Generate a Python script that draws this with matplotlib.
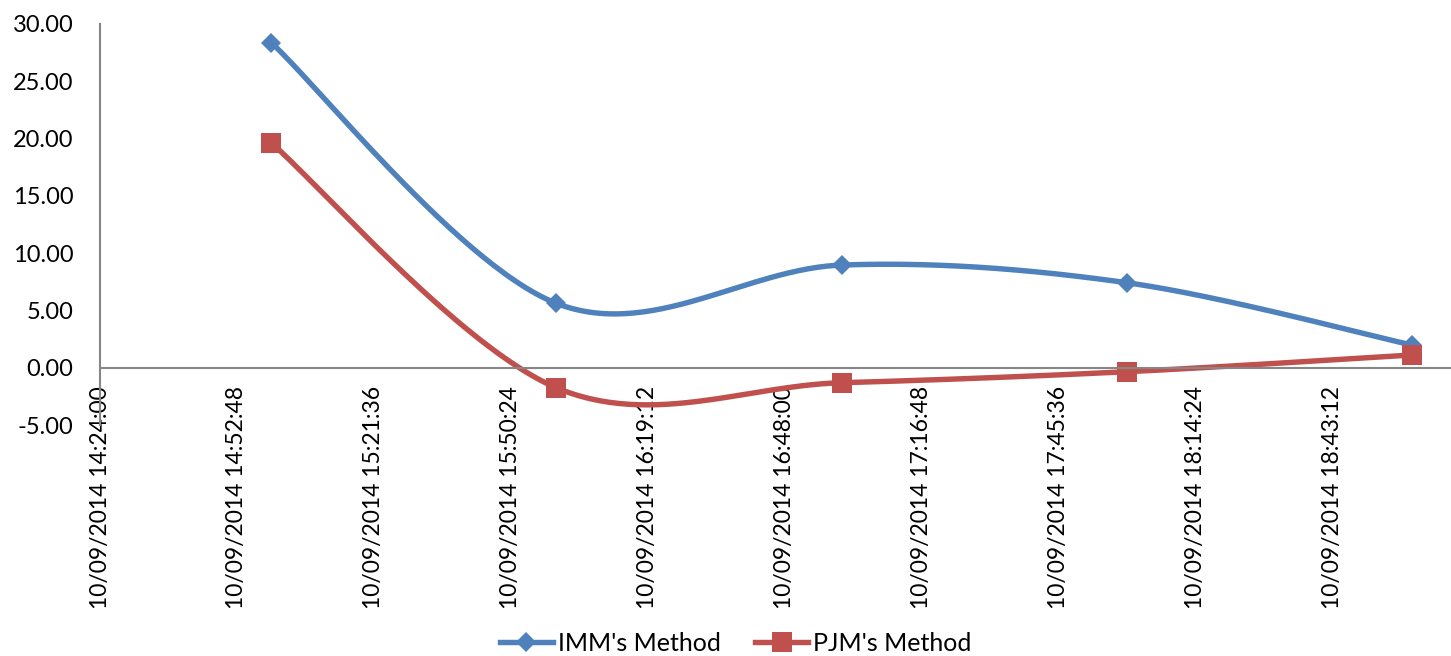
import datetime as dt

import matplotlib

matplotlib.use("Agg")
import matplotlib.dates as mdates
import matplotlib.pyplot as plt
import numpy as np
from matplotlib.lines import Line2D

plt.rcParams["font.family"] = ["Lato", "DejaVu Sans"]

# hourly readings
times = ["2014-09-10 15:00", "2014-09-10 16:00", "2014-09-10 17:00",
         "2014-09-10 18:00", "2014-09-10 19:00"]
imm_values = [28.38, 5.62, 8.96, 7.42, 1.98]
pjm_values = [19.63, -1.75, -1.31, -0.35, 1.11]

BLUE = "#4F81BD"
RED = "#C0504D"
AXIS_GRAY = "#868686"


def smooth_curve(x, y, steps=60):
    # cubic bezier through the points, Catmull-Rom style control points
    pts = np.column_stack([x, y]).astype(float)
    last = len(pts) - 1
    out = []
    t = np.linspace(0.0, 1.0, steps)[:, None]
    for i in range(last):
        p0 = pts[max(i - 1, 0)]
        p1 = pts[i]
        p2 = pts[i + 1]
        p3 = pts[min(i + 2, last)]
        c1 = p1 + (p2 - p0) / 6.0
        c2 = p2 - (p3 - p1) / 6.0
        seg = ((1 - t) ** 3) * p1 + 3 * ((1 - t) ** 2) * t * c1 \
            + 3 * (1 - t) * t ** 2 * c2 + t ** 3 * p2
        out.append(seg if i == 0 else seg[1:])
    out = np.vstack(out)
    return out[:, 0], out[:, 1]


x = mdates.date2num([dt.datetime.strptime(s, "%Y-%m-%d %H:%M") for s in times])

fig = plt.figure(figsize=(14.51, 6.56), dpi=100)
ax = fig.add_axes([100 / 1451, 231 / 656, 1350 / 1451, 401 / 656])

series = [
    ("IMM's Method", imm_values, BLUE, "D", 9.7),
    ("PJM's Method", pjm_values, RED, "s", 14.0),
]
handles = []
for name, values, color, marker, ms in series:
    sx, sy = smooth_curve(x, values)
    ax.plot(sx, sy, color=color, lw=3.9, solid_capstyle="round", clip_on=False)
    ax.plot(x, values, ls="none", marker=marker, ms=ms, color=color,
            markeredgewidth=0, clip_on=False)
    handles.append(Line2D([], [], color=color, lw=3.9, marker=marker, ms=ms,
                          markeredgewidth=0, label=name))

start = dt.datetime(2014, 9, 10, 14, 24)
step = dt.timedelta(minutes=28, seconds=48)
ticks = [start + k * step for k in range(10)]
ax.set_xticks(mdates.date2num(ticks))
ax.xaxis.set_major_formatter(mdates.DateFormatter("%d/%m/%Y %H:%M:%S"))
ax.set_xlim(mdates.date2num(start), mdates.date2num(start + dt.timedelta(minutes=284)))

ax.set_ylim(-5, 30)
ax.set_yticks(np.arange(-5, 31, 5))
ax.yaxis.set_major_formatter(matplotlib.ticker.FormatStrFormatter("%.2f"))

for side in ("top", "right"):
    ax.spines[side].set_visible(False)
ax.spines["bottom"].set_position(("data", 0))
for side in ("left", "bottom"):
    ax.spines[side].set_color(AXIS_GRAY)
    ax.spines[side].set_linewidth(1.5)

ax.tick_params(axis="y", length=0, pad=19, labelsize=17)
ax.tick_params(axis="x", length=0, pad=13, labelsize=16.5, labelrotation=90)

fig.legend(handles=handles, loc="center", bbox_to_anchor=(0.507, 0.019),
           ncol=2, frameon=False, fontsize=18, handlelength=2.1,
           handletextpad=0.2, columnspacing=1.4, borderpad=0.1)

fig.savefig("out.png", dpi=100)
